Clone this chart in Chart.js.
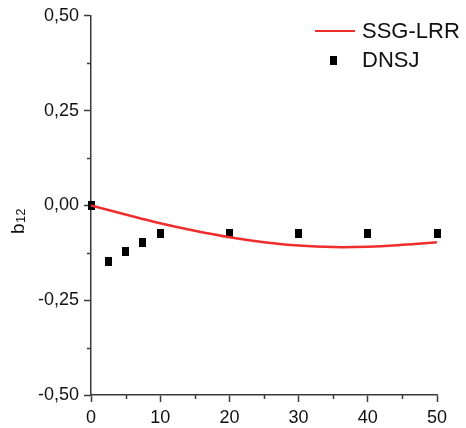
<!DOCTYPE html>
<html>
<head>
<meta charset="utf-8">
<script src="https://cdn.jsdelivr.net/npm/chart.js@4.4.1/dist/chart.umd.min.js"></script>
<style>
  html, body { margin: 0; padding: 0; background: #fff; }
  #wrap { width: 466px; height: 428px; position: relative; }
</style>
</head>
<body>
<div id="wrap"><canvas id="chart"></canvas></div>
<script>
// SSG-LRR model curve
const modelX = [0, 5, 10, 15, 20, 25, 30, 35, 40, 45, 50];
const modelY = [0, -0.024, -0.047, -0.067, -0.084, -0.097, -0.106, -0.110, -0.109, -0.104, -0.097];

// DNSJ data points
const dnsX = [0, 2.5, 5, 7.5, 10, 20, 30, 40, 50];
const dnsY = [0, -0.147, -0.121, -0.097, -0.074, -0.074, -0.074, -0.074, -0.074];

const xMinorTicks = [5, 15, 25, 35, 45];
const yMinorTicks = [-0.375, -0.125, 0.125, 0.375];

const FONT = "'Liberation Sans', Arial, sans-serif";
const AXIS_COLOR = '#3a3a3a';
const RED = 'rgb(240, 45, 45)';

// tall black square marker
function makeMarker() {
    const c = document.createElement('canvas');
    c.width = 7;
    c.height = 9;
    const g = c.getContext('2d');
    g.fillStyle = '#000';
    g.fillRect(0, 0, 7, 9);
    return c;
}
const marker = makeMarker();

const decorations = {
    id: 'decorations',
    afterDraw(chart) {
        const ctx = chart.ctx;
        const xs = chart.scales.x;
        const ys = chart.scales.y;
        const area = chart.chartArea;

        // minor ticks
        ctx.save();
        ctx.strokeStyle = AXIS_COLOR;
        ctx.lineWidth = 1.5;
        ctx.beginPath();
        xMinorTicks.forEach(v => {
            const px = Math.round(xs.getPixelForValue(v)) + 0.5;
            ctx.moveTo(px, area.bottom);
            ctx.lineTo(px, area.bottom + 4);
        });
        yMinorTicks.forEach(v => {
            const py = Math.round(ys.getPixelForValue(v)) + 0.5;
            ctx.moveTo(area.left, py);
            ctx.lineTo(area.left - 4, py);
        });
        ctx.stroke();

        // y axis title b12
        ctx.fillStyle = '#111';
        ctx.translate(24, 234);
        ctx.rotate(-Math.PI / 2);
        ctx.textBaseline = 'alphabetic';
        ctx.font = '19px ' + FONT;
        ctx.fillText('b', 0, 0);
        const bw = ctx.measureText('b').width;
        ctx.font = '13px ' + FONT;
        ctx.fillText('12', bw + 0.5, 1);
        ctx.restore();

        // legend
        ctx.save();
        ctx.strokeStyle = RED;
        ctx.lineWidth = 2;
        ctx.beginPath();
        ctx.moveTo(315, 31);
        ctx.lineTo(355, 31);
        ctx.stroke();
        ctx.drawImage(marker, 330, 56);
        ctx.fillStyle = '#111';
        ctx.font = '22px ' + FONT;
        ctx.textBaseline = 'middle';
        ctx.fillText('SSG-LRR', 362, 32);
        ctx.fillText('DNSJ', 362, 61);
        ctx.restore();
    }
};

new Chart(document.getElementById('chart'), {
    type: 'scatter',
    data: {
        datasets: [{
            label: 'SSG-LRR',
            data: modelX.map((x, i) => ({ x: x, y: modelY[i] })),
            showLine: true,
            borderColor: RED,
            borderWidth: 2.5,
            pointRadius: 0,
            tension: 0.4,
            fill: false
        }, {
            label: 'DNSJ',
            data: dnsX.map((x, i) => ({ x: x, y: dnsY[i] })),
            showLine: false,
            pointStyle: marker,
            pointRadius: 4,
            clip: false
        }]
    },
    options: {
        responsive: true,
        maintainAspectRatio: false,
        animation: false,
        layout: {
            padding: { left: 0, right: 29, top: 15, bottom: 0 }
        },
        plugins: {
            legend: { display: false },
            tooltip: { enabled: false }
        },
        scales: {
            x: {
                type: 'linear',
                min: 0,
                max: 50,
                afterFit: function(scale) { scale.height = 33; },
                ticks: {
                    stepSize: 10,
                    color: '#111',
                    padding: 5,
                    font: { family: FONT, size: 18 }
                },
                grid: {
                    drawOnChartArea: false,
                    tickLength: 7,
                    tickColor: AXIS_COLOR,
                    tickWidth: 1.5
                },
                border: { color: AXIS_COLOR, width: 1.5 }
            },
            y: {
                min: -0.5,
                max: 0.5,
                afterFit: function(scale) { scale.width = 91; },
                ticks: {
                    stepSize: 0.25,
                    color: '#111',
                    padding: 5,
                    font: { family: FONT, size: 18 },
                    callback: function(value) {
                        return value.toFixed(2).replace('.', ',');
                    }
                },
                grid: {
                    drawOnChartArea: false,
                    tickLength: 7,
                    tickColor: AXIS_COLOR,
                    tickWidth: 1.5
                },
                border: { color: AXIS_COLOR, width: 1.5 }
            }
        }
    },
    plugins: [decorations]
});
</script>
</body>
</html>
